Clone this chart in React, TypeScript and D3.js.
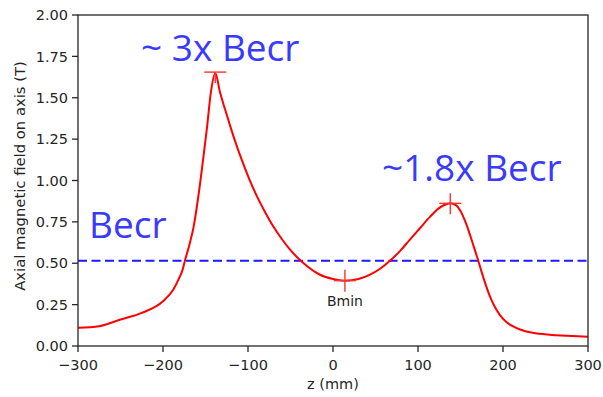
import React from "react";
import * as d3 from "d3";

const zValues = [-300, -275, -250, -225, -200, -188, -181, -177, -174, -169, -164, -158, -153, -148, -144, -138.5, -133, -127, -121, -114, -107, -99, -90, -80, -70, -60, -51, -41, -30, -17, 0, 14, 30, 43, 55, 67, 79, 90, 102, 114, 124, 131, 138, 145, 150, 155, 160, 165, 170, 175, 180, 185, 190, 196, 204, 212, 220, 235, 255, 275, 300];
const bValues = [0.11, 0.12, 0.16, 0.2, 0.27, 0.34, 0.41, 0.46, 0.52, 0.61, 0.72, 0.92, 1.12, 1.33, 1.52, 1.65, 1.535, 1.43, 1.33, 1.22, 1.12, 1.015, 0.91, 0.81, 0.72, 0.645, 0.585, 0.53, 0.48, 0.435, 0.405, 0.395, 0.405, 0.43, 0.465, 0.515, 0.575, 0.64, 0.71, 0.78, 0.83, 0.852, 0.862, 0.85, 0.815, 0.76, 0.69, 0.61, 0.53, 0.445, 0.365, 0.295, 0.24, 0.19, 0.145, 0.118, 0.1, 0.08, 0.068, 0.062, 0.056];

const markerZ = [-138.5, 14, 138];
const markerB = [1.655, 0.395, 0.862];
const markerUp = [0, 11, 10];

const becr = 0.515;
const xTicks = [-300, -200, -100, 0, 100, 200, 300];
const yTicks = [0, 0.25, 0.5, 0.75, 1.0, 1.25, 1.5, 1.75, 2.0];

const W = 603;
const H = 397;
const left = 78;
const right = 588;
const top = 15;
const bottom = 346;

const fmtX = (v: number) => (v < 0 ? "\u2212" + Math.abs(v) : String(v));

export default function App() {
  const x = d3.scaleLinear().domain([-300, 300]).range([left, right]);
  const y = d3.scaleLinear().domain([0, 2]).range([bottom, top]);
  const pts = zValues.map((z, i) => [z, bValues[i]] as [number, number]);
  const line = d3
    .line<[number, number]>()
    .x((d) => x(d[0]))
    .y((d) => y(d[1]))
    .curve(d3.curveMonotoneX);

  const axisFont = "DejaVu Sans";
  const annFont = "Open Sans";
  const annColor = "#3a3aff";

  return (
    <svg
      width={W}
      height={H}
      style={{ position: "fixed", left: 0, top: 0, background: "#fff" }}
    >
      <rect x={0} y={0} width={W} height={H} fill="#fff" />
      {/* dashed Becr line */}
      <line
        x1={left}
        x2={right}
        y1={y(becr)}
        y2={y(becr)}
        stroke="#1a1aff"
        strokeWidth={2}
        strokeDasharray="9,4.5"
      />
      {/* curve */}
      <path d={line(pts) || ""} fill="none" stroke="#ff0000" strokeWidth={2} />
      {/* markers */}
      {markerZ.map((z, i) => (
        <g key={i} stroke="#ff3030" strokeWidth={1.4}>
          <line x1={x(z) - 11} x2={x(z) + 11} y1={y(markerB[i])} y2={y(markerB[i])} />
          <line x1={x(z)} x2={x(z)} y1={y(markerB[i]) - markerUp[i]} y2={y(markerB[i]) + 11} />
        </g>
      ))}
      {/* frame */}
      <rect
        x={left}
        y={top}
        width={right - left}
        height={bottom - top}
        fill="none"
        stroke="#262626"
        strokeWidth={1.3}
      />
      {/* y ticks */}
      {yTicks.map((t) => (
        <g key={"y" + t}>
          <line x1={left - 6} x2={left} y1={y(t)} y2={y(t)} stroke="#262626" strokeWidth={1.3} />
          <text
            x={left - 10}
            y={y(t)}
            dy="0.36em"
            textAnchor="end"
            fontFamily={axisFont}
            fontSize={14.5}
            fill="#262626"
          >
            {t.toFixed(2)}
          </text>
        </g>
      ))}
      {/* x ticks */}
      {xTicks.map((t) => (
        <g key={"x" + t}>
          <line x1={x(t)} x2={x(t)} y1={bottom} y2={bottom + 6} stroke="#262626" strokeWidth={1.3} />
          <text
            x={x(t)}
            y={369.5}
            textAnchor="middle"
            fontFamily={axisFont}
            fontSize={14.5}
            fill="#262626"
          >
            {fmtX(t)}
          </text>
        </g>
      ))}
      {/* axis labels */}
      <text
        x={(left + right) / 2}
        y={389}
        textAnchor="middle"
        fontFamily={axisFont}
        fontSize={14.5}
        fill="#262626"
      >
        z (mm)
      </text>
      <text
        transform={`translate(24.5,176) rotate(-90)`}
        textAnchor="middle"
        fontFamily={axisFont}
        fontSize={14.8}
        fill="#262626"
      >
        Axial magnetic field on axis (T)
      </text>
      {/* Bmin label */}
      <text
        x={x(14)}
        y={306}
        textAnchor="middle"
        fontFamily={axisFont}
        fontSize={14}
        fill="#262626"
      >
        Bmin
      </text>
      {/* annotations */}
      <text x={141} y={60.5} fontFamily={annFont} fontSize={37} fill={annColor}>
        ~ 3x Becr
      </text>
      <text x={382} y={181} fontFamily={annFont} fontSize={37} fill={annColor}>
        ~1.8x Becr
      </text>
      <text x={89} y={237.5} fontFamily={annFont} fontSize={37} fill={annColor}>
        Becr
      </text>
    </svg>
  );
}
